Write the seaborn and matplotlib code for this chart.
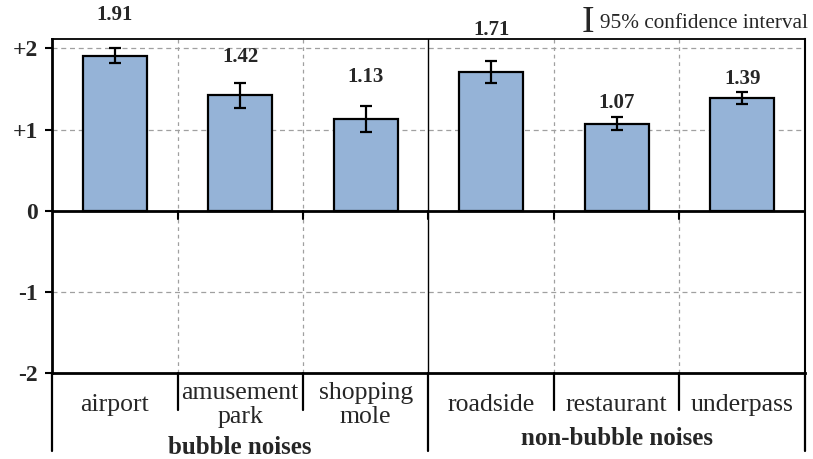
import matplotlib
matplotlib.use("Agg")
import matplotlib.pyplot as plt
import seaborn as sns
import pandas as pd

# ---- data -------------------------------------------------------------
categories = ["airport", "amusement\npark", "shopping\nmole",
              "roadside", "restaurant", "underpass"]
groups = ["bubble noises", "bubble noises", "bubble noises",
          "non-bubble noises", "non-bubble noises", "non-bubble noises"]
means = [1.91, 1.42, 1.13, 1.71, 1.07, 1.39]
ci95 = [0.09, 0.15, 0.16, 0.14, 0.08, 0.075]
ytick_values = [-2, -1, 0, 1, 2]
ytick_labels = ["-2", "-1", "0", "+1", "+2"]
group_names = ["bubble noises", "non-bubble noises"]

# ---- style ------------------------------------------------------------
sns.set_theme(style="white")
plt.rcParams["font.family"] = ["Liberation Serif", "DejaVu Serif"]
BAR_COLOR = "#95B3D7"
# vertical distance (points) between each CI cap and its value label
label_gap = [24, 19, 21, 22, 10, 9]

df = pd.DataFrame({"category": categories, "group": groups,
                   "mean": means, "ci": ci95})

fig = plt.figure(figsize=(8.13, 4.59), dpi=100)
ax = fig.add_axes([0.064, 0.187, 0.926, 0.728])

sns.barplot(data=df, x="category", y="mean", color=BAR_COLOR,
            saturation=1, edgecolor="black", linewidth=1.6, width=0.51,
            errorbar=None, ax=ax, zorder=3)
ax.errorbar(range(len(means)), df["mean"], yerr=df["ci"], fmt="none",
            ecolor="black", elinewidth=1.6, capsize=4, capthick=1.6,
            zorder=4)

for i, (m, c) in enumerate(zip(means, ci95)):
    ax.annotate(f"{m:.2f}", xy=(i, m + c), xytext=(0, label_gap[i]),
                textcoords="offset points", ha="center", va="center",
                fontsize=15, fontweight="bold", annotation_clip=False)

# axes limits and y ticks
ax.set_xlim(-0.5, len(categories) - 0.5)
ax.set_ylim(-2, 2.115)
ax.set_yticks(ytick_values)
ax.set_yticklabels(ytick_labels, fontsize=17, fontweight="bold")
ax.tick_params(axis="y", left=True, length=5, width=1.5, pad=5,
               color="black")
ax.set_xlabel("")
ax.set_ylabel("")

# category labels under the plot
ax.set_xticks(range(len(categories)))
ax.set_xticklabels(categories, fontsize=18.5, linespacing=1.1)
ax.tick_params(axis="x", bottom=False, length=0, pad=23)
for lab in ax.get_xticklabels():
    lab.set_va("center")

# grid: dashed lines at +2, +1, -1 and between categories
for yv in [2, 1, -1]:
    ax.axhline(yv, color="#a0a0a0", lw=0.9, ls=(0, (4, 3)), zorder=1)
for xv in [0.5, 1.5, 3.5, 4.5]:
    ax.axvline(xv, color="#a0a0a0", lw=0.9, ls=(0, (3, 3)), zorder=1)
# solid separator between the two groups
ax.axvline(2.5, color="black", lw=1.0, zorder=2)
# zero line with small downward ticks
ax.axhline(0, color="black", lw=2.0, zorder=5)
for xv in [0.5, 1.5, 2.5, 3.5, 4.5]:
    ax.plot([xv, xv], [0, -0.1], color="black", lw=1.5, zorder=5)

# spines
for side, lw in [("left", 2.0), ("bottom", 2.0), ("top", 1.3), ("right", 1.5)]:
    ax.spines[side].set_visible(True)
    ax.spines[side].set_color("black")
    ax.spines[side].set_linewidth(lw)

# category / group separators below the axes
xt = ax.get_xaxis_transform()
for xv in [0.5, 1.5, 3.5, 4.5]:
    ax.plot([xv, xv], [0, -0.111], transform=xt, color="black", lw=1.6,
            clip_on=False)
for xv in [-0.5, 2.5, 5.5]:
    ax.plot([xv, xv], [0, -0.232], transform=xt, color="black", lw=1.6,
            clip_on=False)

# group labels
ax.text(1.0, -0.222, group_names[0], transform=xt, ha="center", va="center",
        fontsize=18, fontweight="bold")
ax.text(4.0, -0.195, group_names[1], transform=xt, ha="center", va="center",
        fontsize=18, fontweight="bold")

# confidence interval key
fig.text(588 / 813, 1 - 23 / 459, "I", ha="center", va="center",
         fontsize=27)
fig.text(600 / 813, 1 - 24 / 459, "95% confidence interval", ha="left",
         va="center", fontsize=15.3)

fig.savefig("out.png", dpi=100)
